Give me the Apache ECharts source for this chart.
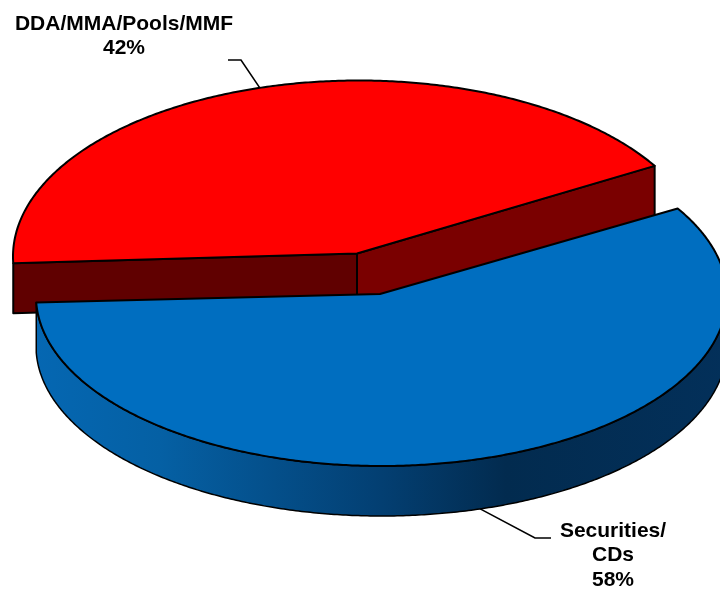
<!DOCTYPE html>
<html>
<head>
<meta charset="utf-8">
<style>html,body{margin:0;padding:0;background:#fff}#chart{width:720px;height:590px}</style>
<script src="https://cdn.jsdelivr.net/npm/echarts@6/dist/echarts.min.js"></script>
</head>
<body>
<div id="chart"></div>
<script>
// Share of balances by holding type
const sliceNames = ['DDA/MMA/Pools/MMF', 'Securities/\nCDs'];
const sliceValues = [42, 58];
const sliceColors = ['#FF0000', '#006EC0'];

// Pie geometry in pixels. Each slice is pulled away from the middle on its own apex;
// the rim ellipse sits a little off the apex to give the disc its perspective lean.
const sliceApexes = [[357, 253.5], [380, 294]];
const rimCentres = [[358.5, 256.5], [381.5, 296]];
const radiusX = 345.5, radiiY = [176, 170], depth = 50, startDeg = 31;
const leaderElbows = [[[241, 60], [228, 60]], [[535, 538], [551, 538]]];
const labelAnchors = [[124, 36], [613, 555.5]];

const total = sliceValues.reduce((a, b) => a + b, 0);
const rad = d => d * Math.PI / 180;

// Counter-clockwise angle range of each slice; the red one runs from startDeg upward,
// the blue one takes the remaining sweep around the front.
const arcs = [
  [startDeg, startDeg + sliceValues[0] / total * 360],
  [startDeg + sliceValues[0] / total * 360 - 360, startDeg]
];

function rim(i, deg, drop) {
  const c = rimCentres[i];
  return [c[0] + radiusX * Math.cos(rad(deg)), c[1] - radiiY[i] * Math.sin(rad(deg)) + (drop || 0)];
}
function arcPoints(i, a0, a1, drop) {
  const pts = [], n = Math.ceil(Math.abs(a1 - a0) * 2);
  for (let k = 0; k <= n; k++) pts.push(rim(i, a0 + (a1 - a0) * k / n, drop));
  return pts;
}
const edge = { stroke: '#000', lineWidth: 2, lineJoin: 'round' };

function facet(points, fill) {
  return { type: 'polygon', shape: { points }, style: Object.assign({ fill }, edge) };
}

function renderSlice(params, api) {
  const i = api.value(0);
  const c = sliceApexes[i];
  const [a0, a1] = arcs[i];
  const children = [];

  if (i === 0) {
    // Cut faces of the far slice, visible behind the near one
    const l = rim(i, a1), r = rim(i, a0);
    children.push(facet([c, r, [r[0], r[1] + depth], [c[0], c[1] + depth]], '#7A0000'));
    children.push(facet([c, l, [l[0], l[1] + depth], [c[0], c[1] + depth]], '#600000'));
  } else {
    // Front wall of the near slice, shaded from left to right
    const top = arcPoints(i, a0, 0, 0);
    const bottom = arcPoints(i, 0, a0, depth);
    children.push({
      type: 'polygon',
      shape: { points: top.concat(bottom) },
      style: Object.assign({
        fill: new echarts.graphic.LinearGradient(0, 0, 1, 0, [
          { offset: 0, color: '#0567B2' },
          { offset: 0.18, color: '#0560A4' },
          { offset: 0.5, color: '#033F72' },
          { offset: 0.68, color: '#022B4F' },
          { offset: 1, color: '#03305A' }
        ])
      }, edge, { lineWidth: 1.5 })
    });
  }

  // Top face
  children.push(facet([c].concat(arcPoints(i, a0, a1)), sliceColors[i]));

  // Leader line from the middle of the slice's outer rim
  const mid = (a0 + a1) / 2;
  const start = rim(i, mid, i === 1 ? depth : 0);
  children.push({
    type: 'polyline',
    shape: { points: [start].concat(leaderElbows[i]) },
    style: { stroke: '#000', lineWidth: 1.6, fill: null }
  });

  // Name and share
  children.push({
    type: 'text',
    style: {
      x: labelAnchors[i][0], y: labelAnchors[i][1],
      text: sliceNames[i] + '\n' + sliceValues[i] + '%',
      align: 'center', verticalAlign: 'middle',
      font: 'bold 21px "Liberation Sans", Arial, sans-serif',
      lineHeight: 24.5, fill: '#000'
    }
  });
  return { type: 'group', children };
}

const chart = echarts.init(document.getElementById('chart'), null, { renderer: 'canvas' });
chart.setOption({
  animation: false,
  backgroundColor: '#fff',
  series: [{
    type: 'custom',
    coordinateSystem: 'none',
    silent: true,
    clip: false,
    data: sliceValues.map((v, i) => [i, v]),
    renderItem: renderSlice
  }]
});
</script>
</body>
</html>
